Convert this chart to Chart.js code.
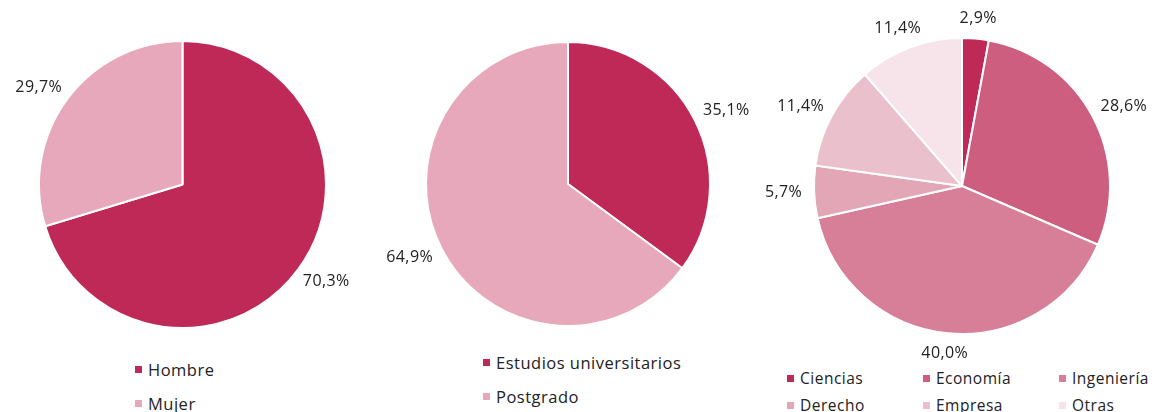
<!DOCTYPE html>
<html lang="es">
<head>
<meta charset="utf-8">
<script src="https://cdn.jsdelivr.net/npm/chart.js@4.4.1/dist/chart.umd.min.js"></script>
<style>
  body { margin: 0; background: #fff; font-family: "Open Sans", sans-serif; color: #222; }
  .wrap { position: relative; width: 1156px; height: 412px; overflow: hidden; }
  .box { position: absolute; }
  .legend { position: absolute; font-size: 16.5px; letter-spacing: 0.5px; }
  .legend .item { position: absolute; white-space: nowrap; display: flex; align-items: center; height: 20px; }
  .legend .sw { display: inline-block; width: 7px; height: 7px; margin-right: 6px; }
</style>
</head>
<body>
<div class="wrap">
  <div class="box" style="left:0;top:0;width:365px;height:345px"><canvas id="sexo"></canvas></div>
  <div class="box" style="left:385px;top:0;width:366px;height:345px"><canvas id="estudios"></canvas></div>
  <div class="box" style="left:756px;top:0;width:412px;height:365px"><canvas id="areas"></canvas></div>
  <div class="legend" id="leg1" style="left:135px;top:359px"></div>
  <div class="legend" id="leg2" style="left:483px;top:352px"></div>
  <div class="legend" id="leg3" style="left:787px;top:368px;font-size:15.5px"></div>
</div>
<script>
const sexoLabels = ['Hombre', 'Mujer'];
const sexoValues = [70.3, 29.7];

const estudiosLabels = ['Estudios universitarios', 'Postgrado'];
const estudiosValues = [35.1, 64.9];

const areasLabels = ['Ciencias', 'Economía', 'Ingeniería', 'Derecho', 'Empresa', 'Otras'];
const areasValues = [2.9, 28.6, 40.0, 5.7, 11.4, 11.4];

const dark = '#BF2957';
const light = '#E8A8BB';
const areaColors = ['#BF2957', '#CD5E80', '#D77F98', '#E2A6B7', '#EBC0CD', '#F7E4EA'];

Chart.defaults.font.family = '"Open Sans", sans-serif';

// percentage labels outside each slice
const outsideLabels = {
  id: 'outsideLabels',
  afterDatasetsDraw(chart) {
    const ctx = chart.ctx;
    const meta = chart.getDatasetMeta(0);
    const values = chart.data.datasets[0].data;
    ctx.save();
    ctx.font = '16px "Open Sans", sans-serif';
    ctx.letterSpacing = '0.4px';
    ctx.fillStyle = '#222';
    ctx.textAlign = 'center';
    ctx.textBaseline = 'middle';
    meta.data.forEach((arc, i) => {
      const p = arc.getProps(['x', 'y', 'startAngle', 'endAngle', 'outerRadius']);
      const mid = (p.startAngle + p.endAngle) / 2;
      const dx = Math.cos(mid), dy = Math.sin(mid);
      const text = values[i].toFixed(1).replace('.', ',') + '%';
      const hw = ctx.measureText(text).width / 2;
      const d = p.outerRadius + 12;
      ctx.fillText(text, p.x + dx * (d + hw), p.y + dy * (d + 8));
    });
    ctx.restore();
  }
};

function pie(id, labels, values, colors, padding) {
  return new Chart(document.getElementById(id), {
    type: 'pie',
    data: {
      labels: labels,
      datasets: [{
        data: values,
        backgroundColor: colors,
        borderColor: '#fff',
        borderWidth: 2
      }]
    },
    options: {
      responsive: true,
      maintainAspectRatio: false,
      animation: false,
      layout: { padding: padding },
      plugins: { legend: { display: false }, tooltip: { enabled: false } }
    },
    plugins: [outsideLabels]
  });
}

function legend(el, labels, colors, colWidth, rowGap, perRow) {
  const box = document.getElementById(el);
  labels.forEach((lab, i) => {
    const item = document.createElement('div');
    item.className = 'item';
    item.style.left = (i % perRow) * colWidth + 'px';
    item.style.top = Math.floor(i / perRow) * rowGap + 'px';
    item.innerHTML = '<span class="sw" style="background:' + colors[i] + '"></span>' + lab;
    box.appendChild(item);
  });
}

pie('sexo', sexoLabels, sexoValues, [dark, light], { top: 40, bottom: 16 });
pie('estudios', estudiosLabels, estudiosValues, [dark, light], { top: 41, bottom: 18 });
pie('areas', areasLabels, areasValues, areaColors, { top: 37, bottom: 30 });

legend('leg1', sexoLabels, [dark, light], 0, 34, 1);
legend('leg2', estudiosLabels, [dark, light], 0, 34, 1);
legend('leg3', areasLabels, areaColors, 136, 27, 3);
</script>
</body>
</html>
